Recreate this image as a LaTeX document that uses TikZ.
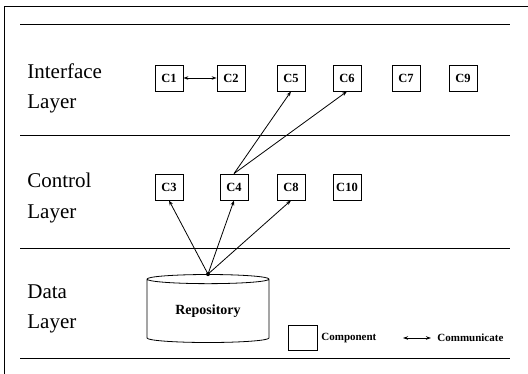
\documentclass[tikz,border=0pt]{standalone}
\usepackage{fontspec}
\setmainfont{Liberation Serif}
\usetikzlibrary{arrows.meta,shapes.geometric}

\begin{document}
\begin{tikzpicture}[x=1pt,y=-1pt,line width=0.8pt,
 comp/.style={draw,minimum width=28pt,minimum height=26pt,inner sep=0pt,font=\fontsize{12.5}{14}\selectfont\bfseries},
 layerlbl/.style={anchor=base west,inner sep=0pt,font=\fontsize{21}{25}\selectfont},
 link/.style={-{Stealth[length=5pt,width=3.5pt]}},
 duplex/.style={{Stealth[length=5pt,width=3.5pt]}-{Stealth[length=5pt,width=3.5pt]}},
 legtext/.style={anchor=west,inner sep=0pt,font=\fontsize{11}{13}\selectfont\bfseries}]
\useasboundingbox (0,0) rectangle (528,374);
% frame and layer separators
\draw (4.5,374) -- (4.5,6) -- (528,6);
\foreach \y in {24,135,248,358} \draw (20,\y) -- (510,\y);
% layer names
\node[layerlbl] (ifc1) at (27,79) {Interface};
\node[layerlbl] (ifc2) at (27,109) {Layer};
\node[layerlbl] (ctl1) at (27,188) {Control};
\node[layerlbl] (ctl2) at (27,219) {Layer};
\node[layerlbl] (dat1) at (27,299) {Data};
\node[layerlbl] (dat2) at (27,329) {Layer};
% interface layer
\node[comp] (c1) at (169,78) {C1};
\node[comp] (c2) at (231,78) {C2};
\node[comp] (c5) at (291,78) {C5};
\node[comp] (c6) at (347,78) {C6};
\node[comp] (c7) at (406,78) {C7};
\node[comp] (c9) at (463,78) {C9};
% control layer
\node[comp] (c3) at (169,187) {C3};
\node[comp] (c4) at (234,187) {C4};
\node[comp] (c8) at (291,187) {C8};
\node[comp] (c10) at (347,187) {C10};
% data layer
\node[cylinder,draw,shape border rotate=90,aspect=0.14,minimum width=122pt,minimum height=68pt,inner sep=0pt,
 font=\fontsize{14}{16}\selectfont\bfseries] (repo) at (208,311) {Repository};
\fill (repo.top) circle (2pt);
% communication
\draw[duplex] (c1) -- (c2);
\draw[link] (repo.top) -- (c3.south);
\draw[link] (repo.top) -- (c4.south);
\draw[link] (repo.top) -- (c8.south);
\draw[link] (c4.north) -- (c5.south);
\draw[link] (c4.north) -- (c6.south);
% legend
\node[comp,minimum width=29pt,minimum height=25pt] (legcomp) at (302.5,337.5) {};
\node[legtext] (legcomptxt) at (321,338) {Component};
\coordinate (commL) at (403,338);
\coordinate (commR) at (431,338);
\draw[duplex] (commL) -- (commR);
\node[legtext] (legcommtxt) at (437,338) {Communicate};
\end{tikzpicture}
\end{document}
